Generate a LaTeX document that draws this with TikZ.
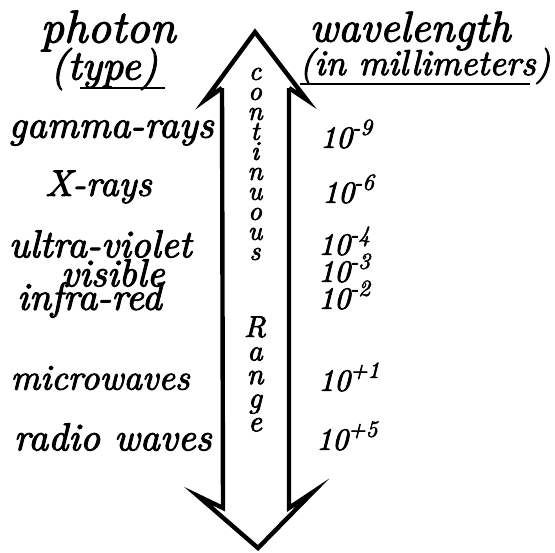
\documentclass[tikz,border=0pt]{standalone}
\usepackage{fontspec}
\setmainfont{Latin Modern Roman}
\newfontfamily\handfont{lmroman10-italic.otf}[FakeBold=2.5]
\newcommand{\pw}[2]{#1\raisebox{0.42em}{\fontsize{11.5}{12}\selectfont #2}}
\newcommand{\fs}[1]{\handfont\fontsize{#1}{#1}\selectfont}
\begin{document}
\begin{tikzpicture}[x=0.5pt,y=-0.5pt,
  hand/.style={font=\fs{18.5}, inner sep=0pt},
  num/.style={font=\fs{15.5}, inner sep=0pt, anchor=west},
  lab/.style={hand, anchor=east},
  vert/.style={inner sep=0pt, align=center},
  arr/.style={line width=2.2pt, line join=miter, line cap=butt}]
\useasboundingbox (0,0) rectangle (555,552);
% double headed outline arrow
\coordinate (tl) at (222,88);
\coordinate (tw1) at (205,100);
\coordinate (tip) at (255,32);
\coordinate (tw2) at (307,100);
\coordinate (tr) at (289,88);
\coordinate (bl) at (223,508);
\coordinate (bw1) at (198,496);
\coordinate (btip) at (258,548);
\coordinate (bw2) at (313,492);
\coordinate (br) at (289,508);
\draw[arr] (tl) -- (tw1) -- (tip) -- (tw2) -- (tr);
\draw[arr] (tl) -- (bl) -- (bw1) -- (btip) -- (bw2) -- (br) -- (tr);
% headings
\node[hand, font=\fs{23}] (photon) at (108,31) {photon};
\node[hand, font=\fs{21}] (type) at (104,69) {(type)};
\draw[line width=1.4pt] (80,88) -- (165,88);
\node[hand, font=\fs{21.5}] (wave) at (410,31) {wavelength};
\node[hand, font=\fs{18}] (mm) at (425,66) {(in millimeters)};
\draw[line width=1.4pt] (300,84) -- (530,84);
% vertical text
\node[vert, font=\handfont\fontsize{13.5}{10}\selectfont] (cont) at (255,164)
  {c\\o\\n\\t\\i\\n\\u\\o\\u\\s};
\node[vert, font=\handfont\fontsize{15}{11.8}\selectfont] (range) at (255,374)
  {R\\a\\n\\g\\e};
% left labels
\node[lab, font=\fs{19.5}] (gamma) at (214,133) {gamma-rays};
\node[lab] (xray) at (152,187) {X-rays};
\node[lab, font=\fs{19.5}] (uv) at (192,244) {ultra-violet};
\node[lab, font=\fs{19.5}] (vis) at (165,273) {visible};
\node[lab, font=\fs{19.5}] (ir) at (162,300) {infra-red};
\node[lab, font=\fs{18}] (micro) at (190,378) {microwaves};
\node[lab, font=\fs{19.5}] (radio) at (212,437) {radio waves};
% right numbers
\node[num] (n1) at (320,134) {\pw{10}{-9}};
\node[num] (n2) at (322,189) {\pw{10}{-6}};
\node[num] (n3) at (318,241) {\pw{10}{-4}};
\node[num] (n4) at (318,268) {\pw{10}{-3}};
\node[num] (n5) at (318,295) {\pw{10}{-2}};
\node[num] (n6) at (318,377) {\pw{10}{+1}};
\node[num] (n7) at (316,436) {\pw{10}{+5}};
\end{tikzpicture}
\end{document}
